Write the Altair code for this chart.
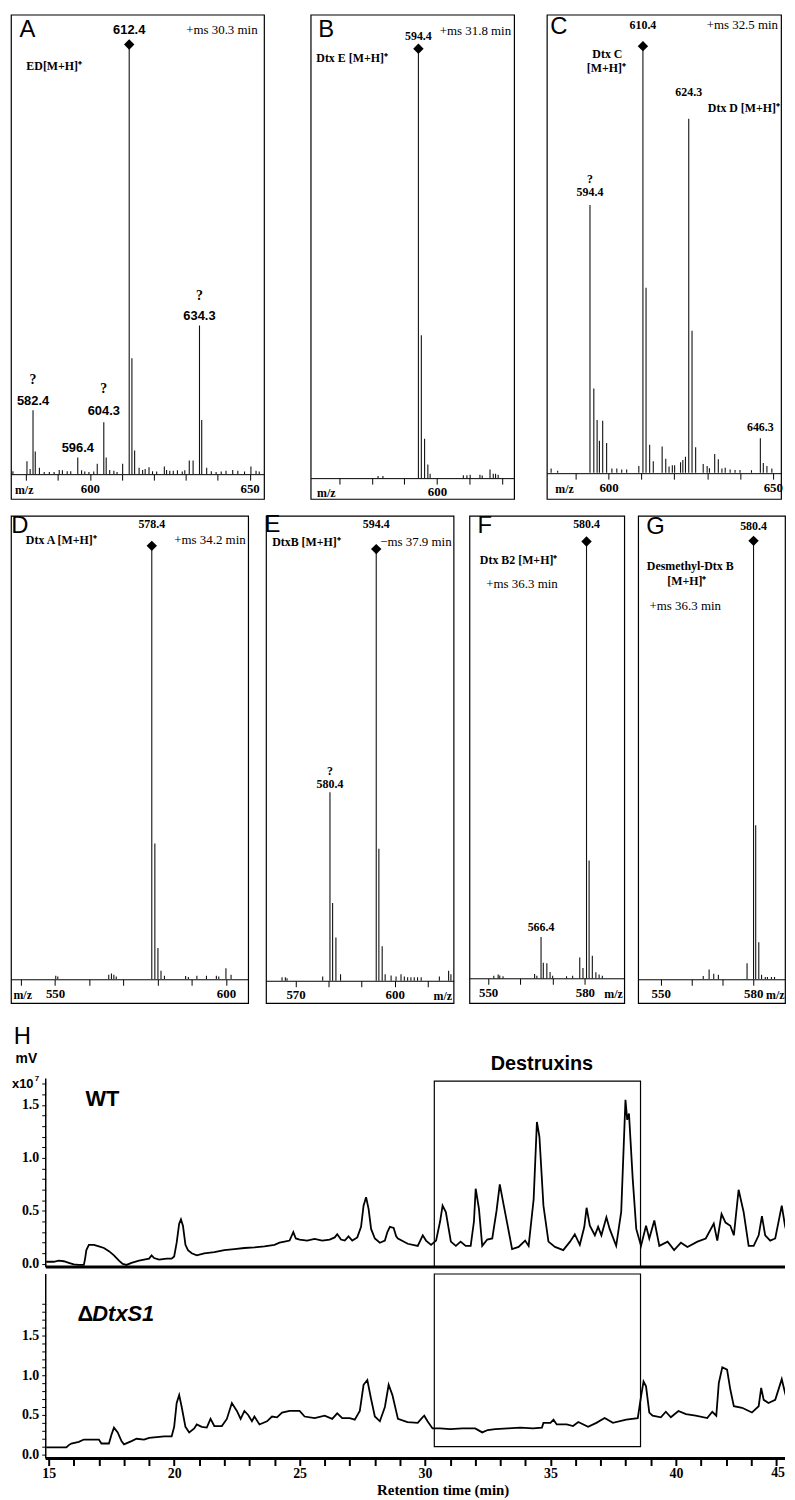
import altair as alt
import pandas as pd

SERIF = "Liberation Serif"
SANS = "Liberation Sans"

# ---------------- mass spectra: m/z and relative intensity (%) ----------------
a_mz = [580.3, 581.3, 582.2, 582.9, 584.2, 596.2, 597.4, 602.3, 604.35, 605.1, 606.2, 610.25,
        612.3, 613.15, 614.0, 615.4, 618.5, 623.3, 631.1, 632.3, 634.3, 635.0, 636.55, 644.7, 650.4]
a_int = [3.0, 1.2, 14.9, 5.3, 1.5, 3.9, 0.9, 2.4, 12.1, 3.9, 1.0, 2.4,
         100, 27.0, 5.5, 1.5, 1.6, 1.8, 3.2, 3.2, 34.6, 12.6, 1.5, 1.0, 1.8]
a_noise_mz = [575.9, 585.7, 587.3, 588.8, 590.4, 591.4, 592.9, 594.0, 598.4, 599.7, 601.2, 607.5,
              608.5, 616.5, 617.3, 619.6, 620.9, 624.0, 625.0, 626.1, 627.4, 628.9, 629.7, 638.0,
              639.5, 641.1, 642.6, 646.3, 648.4, 652.0, 653.0]
a_noise_int = [0.7, 0.5, 0.5, 0.5, 1.0, 0.9, 0.7, 0.7, 0.6, 0.5, 0.6, 0.8,
               0.5, 1.0, 1.2, 0.7, 0.6, 1.0, 0.8, 0.8, 0.9, 0.6, 0.9, 0.7,
               0.5, 0.6, 0.8, 0.8, 0.6, 0.8, 0.6]

b_mz = [581.9, 583.4, 594.3, 595.2, 596.2, 597.2, 597.9, 608.1, 609.2, 610.2, 613.2, 613.9,
        616.3, 617.3, 618.0, 618.8]
b_int = [0.5, 0.5, 100, 33.3, 9.2, 3.2, 1.0, 0.7, 0.7, 0.8, 0.8, 0.6, 2.0, 1.0, 1.0, 0.8]

c_mz = [582.5, 584.5, 594.33, 595.5, 596.5, 597.2, 598.2, 599.4, 601.0, 602.5, 604.0, 605.5,
        609.2, 610.45, 611.4, 612.5, 613.6, 616.3, 617.4, 618.4, 619.4, 620.1, 621.9, 622.6,
        623.4, 624.4, 625.4, 626.5, 628.8, 630.0, 630.7, 632.3, 633.4, 634.5, 635.5, 637.0,
        638.5, 640.0, 643.5, 646.2, 647.1, 648.2, 649.7]
c_int = [1.0, 0.5, 62.8, 19.8, 12.4, 7.5, 12.2, 7.0, 1.0, 1.0, 0.8, 0.8,
         1.6, 100, 43.4, 6.6, 2.7, 6.2, 3.3, 1.5, 1.8, 1.8, 2.5, 3.0,
         3.8, 83.0, 33.3, 6.0, 2.1, 1.6, 1.1, 4.4, 3.2, 1.0, 1.2, 0.8,
         0.7, 0.7, 0.6, 8.1, 2.3, 1.6, 1.0]

d_mz = [550.2, 550.8, 565.7, 566.5, 567.2, 567.9, 578.3, 579.2, 580.1, 581.0, 582.0, 588.2,
        589.0, 591.5, 594.3, 597.2, 597.9, 600.0, 601.5]
d_int = [0.8, 0.6, 1.0, 1.3, 1.0, 0.6, 100, 31.3, 7.2, 1.9, 0.8, 0.7,
         0.5, 0.8, 0.8, 0.8, 0.6, 2.5, 1.0]

e_mz = [565.9, 566.9, 567.4, 578.2, 580.4, 581.2, 582.2, 583.6, 594.4, 595.2, 596.2, 597.1,
        598.9, 600.4, 601.9, 602.9, 603.9, 604.9, 605.9, 606.9, 608.0, 613.5, 616.3, 617.0]
e_int = [0.8, 0.8, 0.6, 1.0, 43.7, 18.0, 10.0, 1.5, 100, 30.6, 8.0, 1.5,
         1.2, 1.0, 1.5, 1.0, 0.8, 0.8, 0.8, 0.8, 0.8, 1.0, 2.3, 1.5]

f_mz = [551.75, 553.1, 553.6, 554.6, 564.4, 565.1, 566.4, 567.1, 568.2, 569.2, 570.0, 574.3,
        576.2, 578.4, 579.4, 580.5, 581.3, 582.3, 583.4, 584.4, 585.4]
f_int = [0.6, 0.9, 0.7, 0.5, 1.0, 0.6, 9.5, 3.6, 3.5, 1.5, 0.6, 0.5,
         0.6, 4.8, 2.4, 100, 27.0, 5.2, 1.4, 0.9, 0.6]

g_mz = [563.8, 565.7, 567.2, 568.7, 578.0, 580.1, 580.8, 581.8, 582.7, 583.9, 584.6, 585.9, 586.9]
g_int = [0.7, 2.2, 1.2, 1.0, 3.6, 100, 35.1, 8.4, 1.0, 0.5, 0.5, 0.5, 0.5]

# peak annotations: text, m/z, intensity of the peak it sits on, pixels above, style
A_LABELS = [("612.4", 612.3, 100, 15, "nums"), ("634.3", 634.3, 34.6, 10, "nums"),
            ("?", 634.3, 34.6, 30, "q"), ("582.4", 582.2, 14.9, 9, "nums"),
            ("?", 582.2, 14.9, 30, "q"), ("604.3", 604.35, 12.1, 11, "nums"),
            ("?", 604.35, 12.1, 33, "q"), ("596.4", 596.2, 3.9, 9, "nums")]
B_LABELS = [("594.4", 594.3, 100, 12.6, "num")]
C_LABELS = [("610.4", 610.45, 100, 21.7, "num"), ("624.3", 624.4, 83.0, 27, "num"),
            ("594.4", 594.33, 62.8, 13, "num"), ("?", 594.33, 62.8, 26, "num"),
            ("646.3", 646.2, 8.1, 11.7, "num")]
D_LABELS = [("578.4", 578.3, 100, 21.7, "num")]
E_LABELS = [("594.4", 594.4, 100, 25, "num"), ("580.4", 580.4, 43.7, 8, "num"),
            ("?", 580.4, 43.7, 21, "num")]
F_LABELS = [("580.4", 580.5, 100, 17.3, "num"), ("566.4", 566.4, 9.5, 10, "num")]
G_LABELS = [("580.4", 580.1, 100, 15, "num")]

# free texts inside each panel: text, x px, y px, align, style
A_NOTES = [("A", 16.5, 15, "center", "letter"), ("+ms 30.3 min", 248.5, 15, "right", "ms"),
           ("ED[M+H]⁺", 15.5, 52, "left", "name")]
B_NOTES = [("B", 15.7, 15, "center", "letter"), ("+ms 31.8 min", 202, 16.7, "right", "ms"),
           ("Dtx E [M+H]⁺", 5.7, 43.3, "left", "name")]
C_NOTES = [("C", 12, 12.5, "center", "letter"), ("+ms 32.5 min", 233, 10.7, "right", "ms"),
           ("Dtx C", 61, 40, "center", "name"), ("[M+H]⁺", 60, 54, "center", "name"),
           ("Dtx D [M+H]⁺", 235, 94, "right", "name")]
D_NOTES = [("D", 9, 10, "center", "letter"), ("+ms 34.2 min", 236.5, 24.2, "right", "ms"),
           ("Dtx A [M+H]⁺", 15, 24.2, "left", "name")]
E_NOTES = [("E", 6.5, 9.5, "center", "letter"), ("−ms 37.9 min", 187, 26.8, "right", "ms"),
           ("DtxB [M+H]⁺", 6.2, 26.8, "left", "name")]
F_NOTES = [("F", 15.5, 10, "center", "letter"), ("Dtx B2 [M+H]⁺", 10.5, 45, "left", "name"),
           ("+ms 36.3 min", 17, 68.5, "left", "ms")]
G_NOTES = [("G", 17.5, 11, "center", "letter"), ("Desmethyl-Dtx B", 52.5, 50.2, "center", "name"),
           ("[M+H]⁺", 49, 65.2, "center", "name"), ("+ms 36.3 min", 11.5, 90.8, "left", "ms")]

# ---------------- chromatograms (retention time min, signal x10^7 mV) ----------------
wt_time = [14.9, 15.2, 15.4, 15.6, 15.8, 16.0, 16.2, 16.4, 16.45, 16.5, 16.6, 16.8, 17.0, 17.2,
           17.4, 17.6, 17.8, 17.95, 18.1, 18.3, 18.6, 18.9, 19.0, 19.1, 19.2, 19.4, 19.7, 19.9,
           20.0, 20.1, 20.2, 20.27, 20.35, 20.45, 20.55, 20.7, 20.9, 21.2, 21.6, 22.0, 22.4, 22.8,
           23.2, 23.6, 24.0, 24.2, 24.4, 24.6, 24.75, 24.85, 25.0, 25.3, 25.6, 25.9, 26.2, 26.4,
           26.5, 26.65, 26.8, 26.95, 27.1, 27.3, 27.45, 27.55, 27.65, 27.75, 27.85, 28.0, 28.2,
           28.4, 28.5, 28.6, 28.75, 28.85, 28.92, 29.31, 29.71, 29.91, 30.04, 30.24, 30.44, 30.6,
           30.7, 30.83, 31.03, 31.23, 31.42, 31.62, 31.82, 31.95, 32.02, 32.15, 32.28, 32.48,
           32.68, 32.85, 32.98, 33.14, 33.27, 33.47, 33.73, 33.99, 34.13, 34.33, 34.46, 34.56,
           34.72, 34.92, 35.18, 35.51, 35.78, 35.97, 36.17, 36.35, 36.44, 36.57, 36.77, 36.9,
           37.03, 37.23, 37.36, 37.62, 37.82, 37.99, 38.06, 38.13, 38.28, 38.42, 38.61, 38.81,
           38.94, 39.14, 39.34, 39.67, 39.93, 40.2, 40.46, 40.86, 41.19, 41.51, 41.65, 41.82,
           41.98, 42.17, 42.31, 42.5, 42.7, 42.9, 43.1, 43.3, 43.43, 43.56, 43.76, 43.96, 44.22,
           44.35, 44.5]
wt_val = [0.02, 0.02, 0.03, 0.025, 0.01, -0.005, -0.01, -0.01, 0.05, 0.13, 0.18, 0.18, 0.165, 0.15,
          0.12, 0.08, 0.03, 0.0, -0.01, 0.01, 0.03, 0.045, 0.05, 0.08, 0.055, 0.04, 0.05, 0.05,
          0.07, 0.2, 0.38, 0.42, 0.36, 0.18, 0.13, 0.1, 0.08, 0.1, 0.11, 0.13, 0.14, 0.15,
          0.155, 0.165, 0.18, 0.2, 0.21, 0.22, 0.3, 0.24, 0.23, 0.22, 0.235, 0.22, 0.23, 0.25,
          0.28, 0.23, 0.22, 0.26, 0.22, 0.25, 0.35, 0.55, 0.63, 0.52, 0.33, 0.24, 0.2,
          0.22, 0.3, 0.35, 0.34, 0.26, 0.24, 0.19, 0.17, 0.27, 0.22, 0.18, 0.22, 0.4,
          0.55, 0.49, 0.21, 0.17, 0.21, 0.17, 0.17, 0.4, 0.71, 0.52, 0.17, 0.23,
          0.24, 0.5, 0.75, 0.55, 0.39, 0.14, 0.16, 0.22, 0.17, 0.61, 1.34, 1.2,
          0.55, 0.21, 0.16, 0.13, 0.21, 0.28, 0.18, 0.35, 0.53, 0.36, 0.27, 0.35,
          0.27, 0.44, 0.33, 0.17, 0.49, 1.55, 1.36, 1.42, 0.8, 0.33, 0.17, 0.36,
          0.24, 0.41, 0.17, 0.21, 0.13, 0.2, 0.16, 0.21, 0.24, 0.38, 0.22, 0.47,
          0.39, 0.36, 0.27, 0.7, 0.49, 0.17, 0.17, 0.27, 0.45, 0.27, 0.22, 0.24, 0.55,
          0.36, 0.22]

ko_time = [14.9, 15.7, 15.8, 15.9, 16.2, 16.4, 17.0, 17.1, 17.4, 17.5, 17.6, 17.75, 17.9, 18.0,
           18.3, 18.5, 18.8, 19.0, 19.3, 19.6, 19.9, 20.0, 20.1, 20.2, 20.3, 20.45, 20.6, 20.8,
           20.9, 21.1, 21.3, 21.45, 21.6, 21.9, 22.1, 22.3, 22.5, 22.65, 22.8, 22.95, 23.1, 23.2,
           23.4, 23.7, 23.9, 24.1, 24.3, 24.6, 25.0, 25.2, 25.6, 26.0, 26.3, 26.5, 26.7, 27.0,
           27.2, 27.4, 27.55, 27.7, 27.85, 28.0, 28.2, 28.4, 28.55, 28.7, 28.92, 29.3, 29.71,
           29.9, 29.97, 30.1, 30.3, 30.6, 31.0, 31.5, 32.0, 32.28, 32.5, 32.8, 33.3, 33.8, 34.3,
           34.66, 34.72, 35.0, 35.12, 35.25, 35.65, 35.9, 36.11, 36.5, 36.83, 37.16, 37.49, 38.02,
           38.48, 38.61, 38.71, 38.81, 38.94, 39.07, 39.4, 39.6, 39.8, 40.1, 40.4, 40.79, 41.25,
           41.45, 41.61, 41.71, 41.85, 42.04, 42.17, 42.31, 42.64, 43.03, 43.3, 43.4, 43.5, 43.69,
           43.96, 44.22, 44.35, 44.5]
ko_val = [0.09, 0.09, 0.12, 0.14, 0.16, 0.19, 0.19, 0.14, 0.14, 0.25, 0.34, 0.28, 0.17, 0.13,
          0.17, 0.2, 0.19, 0.21, 0.22, 0.23, 0.23, 0.35, 0.65, 0.75, 0.6, 0.35, 0.28, 0.33,
          0.38, 0.35, 0.34, 0.45, 0.36, 0.36, 0.45, 0.65, 0.55, 0.45, 0.55, 0.5, 0.42, 0.48,
          0.38, 0.42, 0.48, 0.47, 0.53, 0.55, 0.55, 0.48, 0.46, 0.49, 0.45, 0.52, 0.46, 0.46,
          0.44, 0.55, 0.88, 0.94, 0.7, 0.48, 0.42, 0.6, 0.88, 0.75, 0.45, 0.41, 0.40,
          0.47, 0.49, 0.42, 0.33, 0.33, 0.32, 0.33, 0.33, 0.28, 0.31, 0.32, 0.33, 0.34, 0.33,
          0.34, 0.40, 0.40, 0.44, 0.38, 0.38, 0.36, 0.41, 0.35, 0.40, 0.46, 0.40, 0.44,
          0.46, 0.73, 0.92, 0.86, 0.53, 0.49, 0.47, 0.54, 0.47, 0.55, 0.51, 0.49, 0.46,
          0.54, 0.49, 0.90, 1.10, 1.07, 0.82, 0.61, 0.59, 0.53, 0.61, 0.84, 0.69, 0.65,
          0.69, 0.95, 0.78, 0.61]

destruxin_window = [30.37, 38.59]
time_axis_start = 14.88   # where the y axis stands (min)
time_view_start = 13.495  # left edge of the chromatogram view (min)
time_axis_end = 44.35     # right edge of the time axis (min)

# ---------------- styles ----------------
STYLES = {
    "letter": dict(font=SANS, fontSize=24, fontWeight="normal"),
    "ms": dict(font=SERIF, fontSize=13, fontWeight="normal"),
    "name": dict(font=SERIF, fontSize=12, fontWeight="bold"),
    "num": dict(font=SERIF, fontSize=12, fontWeight="bold"),
    "nums": dict(font=SANS, fontSize=13, fontWeight="bold"),
    "q": dict(font=SERIF, fontSize=14, fontWeight="bold"),
}


def mz_axis(ticks, shown, offset, title_x, title_align):
    cond = " || ".join(f"datum.value == {v}" for v in shown)
    return alt.Axis(values=ticks, labelExpr=f"({cond}) ? datum.label : ''", offset=offset,
                    tickSize=6, tickColor="black", tickWidth=1, domainColor="black", domainWidth=1,
                    labelFont=SERIF, labelFontWeight="bold", labelFontSize=13, labelColor="black",
                    labelPadding=2, labelFlush=False, labelOverlap=False, grid=False,
                    title="m/z", titleFont=SERIF, titleFontWeight="bold", titleFontSize=12,
                    titleColor="black", titleX=title_x, titleY=15, titleAlign=title_align,
                    titleBaseline="middle", titleAngle=0)


def spectrum(mz, inten, base, labels, notes, xdom, ydom, w, h, off, ticks, shown, mzt):
    df = pd.DataFrame({"mz": mz, "i": inten})
    xs = alt.Scale(domain=xdom, nice=False, zero=False)
    ys = alt.Scale(domain=ydom, nice=False, zero=False)
    xenc = alt.X("mz:Q", scale=xs, axis=mz_axis(ticks, shown, off, mzt[0], mzt[1]))
    layers = [alt.Chart(df).mark_rule(color="#111", strokeWidth=1.1, clip=True).encode(
        x=xenc, y=alt.Y("i:Q", scale=ys, axis=None), y2=alt.datum(0))]
    bp = pd.DataFrame({"mz": [base], "i": [100.0]})
    layers.append(alt.Chart(bp).mark_point(shape="diamond", filled=True, color="black",
                                           size=110, opacity=1).encode(
        x=xenc, y=alt.Y("i:Q", scale=ys, axis=None)))
    upp = (ydom[1] - ydom[0]) / h
    for style in sorted(set(l[4] for l in labels)):
        rows = [l for l in labels if l[4] == style]
        ldf = pd.DataFrame({"t": [r[0] for r in rows], "mz": [r[1] for r in rows],
                            "ly": [r[2] + r[3] * upp for r in rows]})
        layers.append(alt.Chart(ldf).mark_text(baseline="middle", align="center", color="black",
                                               **STYLES[style]).encode(
            x=xenc, y=alt.Y("ly:Q", scale=ys, axis=None), text="t:N"))
    for (t, x, y, align, style) in notes:
        layers.append(alt.Chart(pd.DataFrame({"t": [t]})).mark_text(
            align=align, baseline="middle", color="black", **STYLES[style]).encode(
            x=alt.value(x), y=alt.value(y), text="t:N"))
    return alt.layer(*layers).properties(
        width=w, height=h, view=alt.ViewBackground(stroke="black", strokeWidth=1.2))


pA = spectrum(a_mz + a_noise_mz, a_int + a_noise_int, 612.3, A_LABELS, A_NOTES,
              [575.3, 654.5], [-5.77, 106.93], 255, 488, -25, list(range(580, 651, 10)),
              [600, 650], (3.5, "left"))
pB = spectrum(b_mz, b_int, 594.3, B_LABELS, B_NOTES, [561.2, 623.7], [-4.85, 107.93], 205, 488,
              -21, list(range(570, 621, 10)), [600], (6, "left"))
pC = spectrum(c_mz, c_int, 610.45, C_LABELS, C_NOTES, [581.2, 652.5], [-6.12, 107.37], 236, 488,
              -26, list(range(590, 651, 10)), [600, 650], (8, "left"))
pD = spectrum(d_mz, d_int, 578.3, D_LABELS, D_NOTES, [537.1, 606.5], [-5.54, 106.92], 239, 491,
              -24, list(range(540, 601, 10)), [550, 600], (2, "left"))
pE = spectrum(e_mz, e_int, 594.4, E_LABELS, E_NOTES, [561.05, 617.8], [-5.17, 107.7], 189, 491,
              -22.5, list(range(570, 611, 10)), [570, 600], (187, "right"))
pF = spectrum(f_mz, f_int, 580.5, F_LABELS, F_NOTES, [544.2, 592.2], [-5.63, 105.86], 156, 491,
              -25, list(range(550, 581, 10)), [550, 580], (154, "right"))
pG = spectrum(g_mz, g_int, 580.1, G_LABELS, G_NOTES, [542.7, 590.3], [-5.48, 105.71], 148, 491,
              -24, list(range(550, 581, 10)), [550, 580], (147, "right"))

row1 = alt.hconcat(alt.hconcat(pA, pB, spacing=45), pC, spacing=31)
row2 = alt.hconcat(alt.hconcat(pD, pE, pF, spacing=14), pG, spacing=12)

# ---------------- chromatogram panel H ----------------
HW = 780
hx = alt.Scale(domain=[time_view_start, time_axis_end], nice=False, zero=False)


def y_axis(n):
    return alt.Axis(values=[round(0.1 * k, 1) for k in range(n)],
                    labelExpr="round(datum.value*10) % 5 == 0 ? format(datum.value, '.1f') : ''",
                    offset=-35, domain=False, tickSize=4, tickColor="black", tickWidth=1,
                    labelFont=SERIF, labelFontWeight="bold", labelFontSize=14,
                    labelColor="black", labelPadding=3, labelOverlap=False, grid=False, title=None)


def htext(t, x, y, align, font, size, weight="bold", style="normal"):
    return alt.Chart(pd.DataFrame({"t": [t]})).mark_text(
        align=align, baseline="middle", color="black", font=font, fontSize=size,
        fontWeight=weight, fontStyle=style).encode(x=alt.value(x), y=alt.value(y), text="t:N")


def frame_lines(ys, yaxis, xaxis, ybot, ytop):
    vert = alt.Chart(pd.DataFrame({"x": [time_axis_start], "y0": [ybot], "y1": [ytop]})).mark_rule(
        color="black", strokeWidth=1.5).encode(
        x=alt.X("x:Q", scale=hx, axis=xaxis), y=alt.Y("y0:Q", scale=ys, axis=yaxis), y2="y1:Q")
    horiz = alt.Chart(pd.DataFrame({"x0": [time_axis_start], "x1": [time_axis_end],
                                    "y": [ybot]})).mark_rule(color="black", strokeWidth=3).encode(
        x=alt.X("x0:Q", scale=hx, axis=xaxis), x2="x1:Q", y=alt.Y("y:Q", scale=ys, axis=yaxis))
    return vert, horiz


def window_box(ys, yaxis, xaxis, ytop, ybot):
    return alt.Chart(pd.DataFrame({"x0": [destruxin_window[0]], "x1": [destruxin_window[1]],
                                   "y0": [ytop], "y1": [ybot]})).mark_rect(
        fill="transparent", stroke="black", strokeWidth=1.2).encode(
        x=alt.X("x0:Q", scale=hx, axis=xaxis), x2="x1:Q",
        y=alt.Y("y0:Q", scale=ys, axis=yaxis), y2="y1:Q")


# WT (top) trace: view spans from the "H" row down to the separator line
wt_ys = alt.Scale(domain=[-0.03, 2.256], nice=False, zero=False)
wt_yaxis = y_axis(18)
wt_line = alt.Chart(pd.DataFrame({"t": wt_time, "v": wt_val})).mark_line(
    color="black", strokeWidth=1.8, clip=True).encode(
    x=alt.X("t:Q", scale=hx, axis=None), y=alt.Y("v:Q", scale=wt_ys, axis=wt_yaxis))
wt_vert, wt_sep = frame_lines(wt_ys, wt_yaxis, None, -0.03, 1.75)
wt_chart = alt.layer(
    wt_line, wt_vert, wt_sep, window_box(wt_ys, wt_yaxis, None, 1.725, -0.03),
    htext("WT", 75, 74.5, "left", SANS, 22),
    htext("Destruxins", 535, 39, "center", SANS, 20),
    htext("H", 11.5, 12.5, "center", SANS, 24, "normal"),
    htext("mV", 15.5, 34, "center", SANS, 14),
    htext("x10", 1, 60, "left", SANS, 13),
    htext("7", 24, 55, "left", SANS, 8),
).properties(width=HW, height=244, view=alt.ViewBackground(stroke="transparent"))

# ΔDtxS1 (bottom) trace
ko_xaxis = alt.Axis(
    values=list(range(15, 45)), labelExpr="datum.value % 5 == 0 ? datum.label : ''",
    domain=False, tickSize=7, tickWidth=2, tickColor="black",
    labelFont=SERIF, labelFontWeight="bold", labelFontSize=14, labelColor="black",
    labelPadding=1, labelOverlap=False, grid=False,
    title="Retention time (min)", titleFont=SERIF, titleFontWeight="bold", titleFontSize=15,
    titleColor="black", titleX=435, titleY=31, titleAlign="center", titleBaseline="middle")
ko_ys = alt.Scale(domain=[-0.05, 2.275], nice=False, zero=False)
ko_yaxis = y_axis(20)
ko_line = alt.Chart(pd.DataFrame({"t": ko_time, "v": ko_val})).mark_line(
    color="black", strokeWidth=1.8, clip=True).encode(
    x=alt.X("t:Q", scale=hx, axis=ko_xaxis), y=alt.Y("v:Q", scale=ko_ys, axis=ko_yaxis))
ko_vert, ko_base = frame_lines(ko_ys, ko_yaxis, ko_xaxis, -0.05, 2.275)
last_tick = alt.Chart(pd.DataFrame({"t": ["45"], "x": [time_axis_end]})).mark_text(
    align="right", baseline="middle", color="black", font=SERIF, fontSize=14,
    fontWeight="bold").encode(x=alt.X("x:Q", scale=hx, axis=ko_xaxis), y=alt.value(201),
                              text="t:N")
ko_chart = alt.layer(
    ko_line, ko_vert, ko_base, window_box(ko_ys, ko_yaxis, ko_xaxis, 2.275, 0.1), last_tick,
    htext("Δ", 67, 40.5, "left", SANS, 22),
    htext("DtxS1", 82, 40.5, "left", SANS, 22, "bold", "italic"),
).properties(width=HW, height=186, view=alt.ViewBackground(stroke="transparent"))

hgroup = alt.vconcat(wt_chart, ko_chart, spacing=0)

chart = alt.vconcat(alt.vconcat(row1, row2, spacing=12), hgroup, spacing=20).properties(
    padding={"left": 2, "top": 0, "right": 0, "bottom": 0}
).configure_view(stroke="transparent").configure_axis(grid=False)

chart.save("out.html", embed_options={"renderer": "svg", "actions": False})
